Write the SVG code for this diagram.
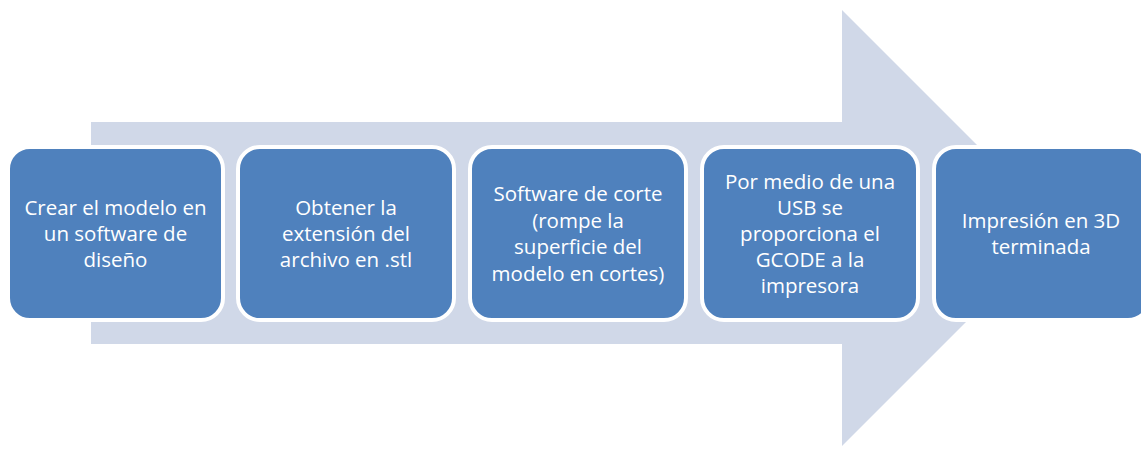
<svg xmlns="http://www.w3.org/2000/svg" width="1141" height="450" viewBox="0 0 1141 450">
<style>
.box{fill:#4F81BD;stroke:#FFFFFF;stroke-width:4}
.t{font-family:"Open Sans","Liberation Sans",sans-serif;font-size:20.5px;fill:#FFFFFF;text-anchor:middle}
</style>
<rect width="1141" height="450" fill="#FFFFFF"/>
<g id="arrow">
<polygon points="91,122 842,122 842,10 1060,228 842,446 842,344 91,344" fill="#D0D8E8"/>
</g>
<g id="connectors"></g>
<g id="n1">
<rect class="box" x="8" y="147" width="215" height="173" rx="22"/>
<text class="t" x="115.5" y="215">Crear el modelo en</text>
<text class="t" x="115.5" y="241">un software de</text>
<text class="t" x="115.5" y="267">diseño</text>
</g>
<g id="n2">
<rect class="box" x="238" y="147" width="216" height="173" rx="22"/>
<text class="t" x="346" y="215">Obtener la</text>
<text class="t" x="346" y="241">extensión del</text>
<text class="t" x="346" y="267">archivo en .stl</text>
</g>
<g id="n3">
<rect class="box" x="470" y="147" width="216" height="173" rx="22"/>
<text class="t" x="578" y="201">Software de corte</text>
<text class="t" x="578" y="228">(rompe la</text>
<text class="t" x="578" y="254">superficie del</text>
<text class="t" x="578" y="281">modelo en cortes)</text>
</g>
<g id="n4">
<rect class="box" x="702" y="147" width="216" height="173" rx="22"/>
<text class="t" x="810" y="189">Por medio de una</text>
<text class="t" x="810" y="215">USB se</text>
<text class="t" x="810" y="241">proporciona el</text>
<text class="t" x="810" y="267">GCODE a la</text>
<text class="t" x="810" y="293">impresora</text>
</g>
<g id="n5">
<rect class="box" x="934" y="147" width="216" height="173" rx="22"/>
<text class="t" x="1041" y="228">Impresión en 3D</text>
<text class="t" x="1041" y="254">terminada</text>
</g>
</svg>
